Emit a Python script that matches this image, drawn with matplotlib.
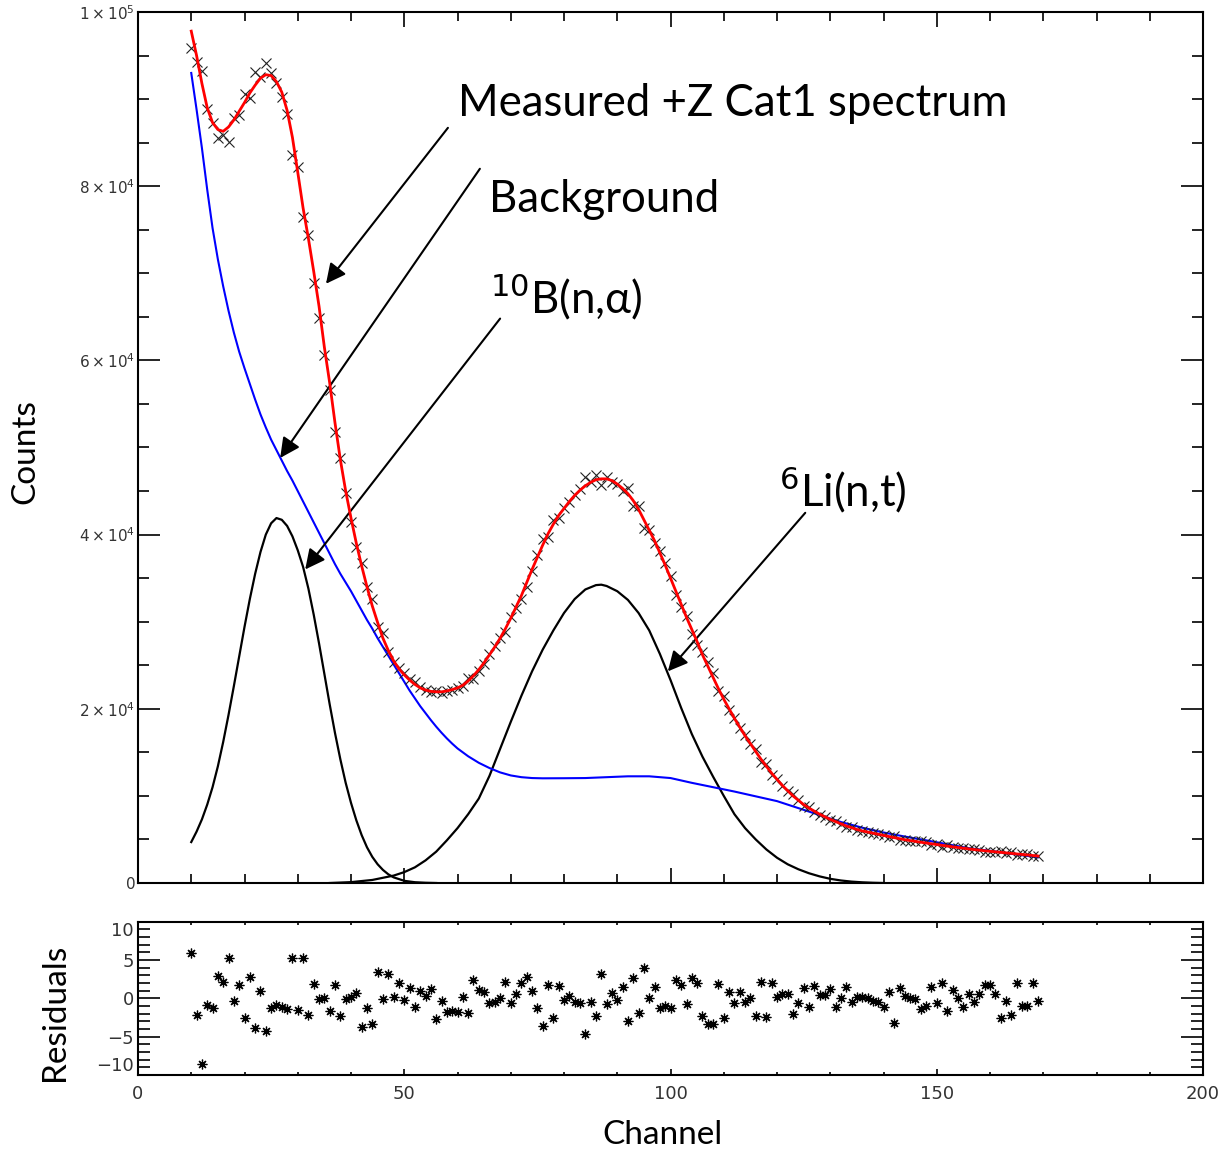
import numpy as np
import matplotlib
matplotlib.use('Agg')
import matplotlib.pyplot as plt
from matplotlib.ticker import MultipleLocator, FixedLocator

# ---------------- data ----------------
channels = np.arange(10, 170)

measured = [
    95820, 94290, 93250, 88820, 87280, 85490, 85870, 85100, 87790, 88170,
    90580, 90080, 93140, 92490, 94170, 92950, 91800, 90270, 88280, 83570,
    82230, 76490, 74390, 68850, 64830, 60610, 56600, 51810, 48750, 44740,
    41480, 38610, 36700, 34020, 32570, 29420, 28670, 26550, 25410, 24650,
    24070, 23380, 23110, 22540, 22150, 21960, 22000, 21770, 22000, 22150,
    22350, 22670, 23480, 23430, 24330, 25160, 26310, 27170, 28100, 28830,
    30500, 31600, 32650, 33980, 35810, 37650, 39510, 39750, 41710, 41870,
    43040, 43740, 44590, 45240, 46600, 46090, 46790, 45720, 46560, 46040,
    45840, 44980, 45310, 43330, 43310, 40710, 40500, 39020, 38130, 36690,
    35220, 33060, 31690, 30630, 28640, 27380, 26570, 25420, 24110, 22020,
    21480, 19880, 18980, 17780, 16960, 16000, 15380, 13940, 13680, 12380,
    11890, 11140, 10540, 10200, 9560, 8870, 8710, 8100, 7860, 7560,
    7200, 7150, 6800, 6430, 6385, 6140, 5965, 5850, 5740, 5620,
    5550, 5270, 5440, 4990, 4950, 4870, 4780, 4780, 4660, 4405,
    4450, 4190, 4330, 4080, 4070, 4065, 3875, 3865, 3735, 3595,
    3535, 3545, 3670, 3480, 3525, 3230, 3335, 3275, 3050, 3120,
]

fit = [
    97800, 95000, 91800, 89000, 87300, 86500, 86300, 86800, 87600, 88600,
    89600, 90700, 91600, 92400, 92800, 92700, 92000, 90800, 88700, 85600,
    81600, 77500, 74000, 70200, 66200, 61500, 57400, 52800, 48600, 45000,
    41900, 39000, 36400, 34000, 31800, 29900, 28100, 26700, 25500, 24600,
    23900, 23300, 22800, 22400, 22150, 22000, 21950, 21950, 22050, 22200,
    22400, 22700, 23200, 23800, 24500, 25300, 26200, 27100, 28100, 29200,
    30400, 31700, 33000, 34500, 36000, 37400, 38800, 40100, 41200, 42200,
    43000, 43800, 44500, 45100, 45600, 46000, 46300, 46400, 46400, 46200,
    45800, 45300, 44700, 43900, 42900, 41700, 40500, 39300, 37900, 36500,
    35000, 33500, 32000, 30500, 29100, 27700, 26200, 24900, 23600, 22300,
    21100, 20000, 18900, 17900, 16900, 16000, 15100, 14200, 13400, 12600,
    11900, 11200, 10600, 10000, 9500, 9000, 8600, 8250, 7900, 7600,
    7300, 7050, 6800, 6550, 6350, 6150, 5980, 5850, 5720, 5590,
    5460, 5330, 5210, 5090, 4970, 4870, 4770, 4680, 4590, 4500,
    4410, 4320, 4230, 4150, 4070, 3990, 3910, 3840, 3770, 3700,
    3640, 3580, 3520, 3460, 3400, 3340, 3280, 3220, 3160, 3100,
]

residuals = [
    5.95, -2.18, -8.57, -0.88, -1.22, 2.9, 2.12, 5.21, -0.36, 1.73,
    -2.6, 2.82, -3.83, 1.0, -4.2, -1.22, -0.88, -1.1, -1.44, 5.21,
    -1.53, 5.21, -2.18, 1.86, -0.14, 0.0, -1.62, 1.73, -2.31, -0.14,
    0.12, 0.64, -3.79, -1.22, -3.35, 3.47, -0.1, 3.17, 0.21, 1.95,
    -0.2, 1.3, -1.1, 1.0, 0.3, 1.17, -2.7, -0.31, -1.83, -1.62,
    -1.83, 0.21, -1.88, 2.4, 1.08, 0.86, -0.66, -0.44, 0.0, 2.17,
    -0.57, 0.56, 1.95, 2.82, 1.0, -1.3, -3.6, 1.73, -2.5, 1.6,
    -0.2, 0.3, -0.44, -0.66, -4.66, -0.44, -2.3, 3.17, -0.75, 0.73,
    -0.2, 1.5, -2.9, 2.7, -1.96, 3.9, 0.0, 1.43, -1.2, -1.0,
    -1.2, 2.4, 1.73, -0.75, 2.7, 1.95, -2.3, -3.3, -3.3, 1.86,
    -2.6, 0.86, -0.57, 0.86, -0.44, 0.0, -2.3, 2.17, -2.4, 1.95,
    0.12, 0.56, 0.56, -2.05, -0.57, 1.4, -1.18, 1.64, 0.43, 0.43,
    1.17, -1.18, 0.0, 1.5, -0.44, 0.12, 0.21, 0.0, -0.31, -0.44,
    -1.18, 0.86, -3.18, 1.4, 0.3, 0.0, -0.14, -1.44, -1.0, 1.43,
    -0.57, 2.04, -1.6, 1.08, 0.0, -1.18, 0.56, -0.44, 0.56, 1.73,
    1.73, 0.56, -2.6, -0.31, -2.18, 1.95, -1.0, -1.0, 1.95, -0.31,
]

bg_ch = [10, 11, 12, 13, 14, 15, 16, 17, 18, 19, 20, 21, 22, 23, 24, 25, 26,
         27, 28, 29, 30, 31, 32, 33, 34, 35, 36, 37, 38, 39, 40, 41, 42, 43,
         44, 45, 46, 47, 48, 49, 50, 51, 52, 53, 54, 55, 56, 57, 58, 59, 60,
         62, 64, 66, 68, 70, 72, 74, 76, 80, 84, 88, 92, 96, 100, 104, 108,
         112, 116, 120, 124, 128, 132, 136, 140, 144, 148, 152, 156, 160,
         164, 169]
background = [93000, 88800, 84400, 79600, 75200, 71600, 68500, 65700, 63200,
              61000, 59100, 57300, 55500, 53800, 52300, 50900, 49700, 48500,
              47300, 46200, 45000, 43800, 42600, 41400, 40200, 39000, 37800,
              36600, 35500, 34500, 33500, 32400, 31300, 30200, 29200, 28100,
              27100, 26100, 25100, 24100, 23100, 22100, 21200, 20300, 19500,
              18700, 17950, 17250, 16600, 16000, 15450, 14550, 13800, 13200,
              12700, 12350, 12150, 12050, 12020, 12030, 12050, 12150, 12250,
              12250, 12050, 11500, 11000, 10500, 9950, 9400, 8600, 7800, 7000,
              6350, 5800, 5330, 4900, 4450, 4000, 3700, 3350, 2950]

b10_ch = [10, 11, 12, 13, 14, 15, 16, 17, 18, 19, 20, 21, 22, 23, 24, 25, 26,
          27, 28, 29, 30, 31, 32, 33, 34, 35, 36, 37, 38, 39, 40, 41, 42, 43,
          44, 45, 46, 47, 48, 50, 52, 54, 56]
b10_peak = [4700, 5900, 7300, 9000, 11000, 13400, 16200, 19300, 22600, 26000,
            29400, 32600, 35500, 38000, 40000, 41300, 41900, 41700, 41000,
            39800, 38200, 36300, 33800, 30800, 27500, 24000, 20500, 17200,
            14200, 11500, 9200, 7200, 5500, 4100, 3000, 2150, 1500, 1000,
            650, 250, 90, 30, 0]

li6_ch = [36, 40, 44, 48, 50, 52, 54, 56, 58, 60, 62, 64, 66, 68, 70, 72, 74,
          76, 78, 80, 82, 84, 86, 87, 88, 90, 92, 94, 96, 98, 100, 102, 104,
          106, 108, 110, 112, 114, 116, 118, 120, 122, 124, 126, 128, 130,
          132, 134, 136, 138, 140]
li6_peak = [0, 100, 350, 850, 1250, 1800, 2600, 3600, 4900, 6300, 7900, 9700,
            12300, 15400, 18500, 21500, 24300, 26800, 29000, 31000, 32600,
            33700, 34200, 34250, 34100, 33500, 32500, 31000, 29000, 26300,
            23300, 20100, 17100, 14500, 12200, 10000, 7900, 6300, 5000, 3850,
            2900, 2150, 1580, 1120, 760, 480, 290, 160, 80, 30, 0]

x_ticks = [0, 50, 100, 150, 200]
y_ticks = [0, 20000, 40000, 60000, 80000, 100000]
y_labels = ['0', r'$2\times10^{4}$', r'$4\times10^{4}$', r'$6\times10^{4}$',
            r'$8\times10^{4}$', r'$1\times10^{5}$']
r_ticks = [-10, -5, 0, 5, 10]
r_labels = ['\u221210', '\u22125', '0', '5', '10']

# annotations: (text, text pos, arrow start, arrow tip)
annotations = [
    ('Measured +Z Cat1 spectrum', (60.1, 89500), (58.2, 86700), (35.3, 68800)),
    ('Background', (65.9, 78500), (64.2, 82000), (26.7, 48800)),
    (r'$^{10}$B(n,α)', (66.1, 67300), (68.0, 64800), (31.4, 36000)),
    (r'$^{6}$Li(n,t)', (120.4, 45200), (125.3, 42500), (99.5, 24300)),
]

# ---------------- figure ----------------
plt.rcParams['font.family'] = ['DejaVu Sans']
plt.rcParams['mathtext.fontset'] = 'dejavusans'
TXT = ['Lato', 'DejaVu Sans']

fig = plt.figure(figsize=(12.31, 11.52), dpi=100)
ax = fig.add_axes([0.1121, 0.2335, 0.8652, 0.7561])
axr = fig.add_axes([0.1121, 0.0668, 0.8652, 0.1331])

ax.plot(b10_ch, b10_peak, color='black', lw=1.6, zorder=2)
ax.plot(li6_ch, li6_peak, color='black', lw=1.6, zorder=2)
ax.plot(bg_ch, background, color='#0000ff', lw=1.5, zorder=3)
ax.plot(channels, measured, ls='none', marker='x', ms=6.5, mew=0.8,
        color='#222222', zorder=4)
ax.plot(channels, fit, color='#ff0000', lw=2.0, zorder=5)

ax.set_xlim(0, 200)
ax.set_ylim(0, 100000)
ax.xaxis.set_major_locator(FixedLocator(x_ticks))
ax.xaxis.set_minor_locator(MultipleLocator(10))
ax.yaxis.set_major_locator(FixedLocator(y_ticks))
ax.yaxis.set_minor_locator(MultipleLocator(5000))
ax.set_yticklabels(y_labels)
ax.tick_params(axis='x', which='both', direction='in', top=True, bottom=True,
               labelbottom=False)
ax.tick_params(axis='x', which='major', length=11, width=1.2)
ax.tick_params(axis='x', which='minor', length=6.5, width=1.2)
ax.tick_params(axis='y', which='both', direction='in', left=True, right=True,
               labelsize=11, labelcolor='#333333', pad=2)
ax.tick_params(axis='y', which='major', length=16, width=1.2)
ax.tick_params(axis='y', which='minor', length=8, width=1.2)
for s in ax.spines.values():
    s.set_linewidth(1.5)

for text, tpos, start, tip in annotations:
    ax.text(tpos[0], tpos[1], text, fontsize=31.5, family=TXT,
            ha='left', va='center', color='black')
    ax.annotate('', xy=tip, xytext=start,
                arrowprops=dict(arrowstyle='-|>', color='black', lw=1.5,
                                mutation_scale=30, shrinkA=0, shrinkB=0))

# residuals
axr.plot(channels, residuals, ls='none', marker=(8, 2, 0), ms=7, mew=0.9,
         color='black')
axr.set_xlim(0, 200)
axr.set_ylim(-10, 10)
axr.xaxis.set_major_locator(FixedLocator(x_ticks))
axr.xaxis.set_minor_locator(MultipleLocator(10))
axr.yaxis.set_major_locator(FixedLocator(r_ticks))
axr.yaxis.set_minor_locator(MultipleLocator(1))
axr.set_yticklabels(r_labels)
axr.tick_params(axis='x', which='both', direction='in', top=True, bottom=True,
                labelsize=13, labelcolor='#333333', pad=7)
axr.tick_params(axis='x', which='major', length=4, width=1.2)
axr.tick_params(axis='x', which='minor', length=2.5, width=1.2)
axr.tick_params(axis='y', which='both', direction='in', left=True, right=True,
                labelsize=13, labelcolor='#333333', pad=3)
axr.tick_params(axis='y', which='major', length=16, width=1.2)
axr.tick_params(axis='y', which='minor', length=8.5, width=1.2)
for s in axr.spines.values():
    s.set_linewidth(1.5)
ylabs = axr.get_yticklabels()
ylabs[0].set_va('bottom')
ylabs[-1].set_va('top')

fig.text(25 / 1231, 1 - 452 / 1152, 'Counts', rotation=90, fontsize=24,
         family=TXT, ha='center', va='center')
fig.text(55 / 1231, 1 - 1012 / 1152, 'Residuals', rotation=90, fontsize=24,
         family=TXT, ha='center', va='center')
fig.text(662 / 1231, 1 - 1135 / 1152, 'Channel', fontsize=24, family=TXT,
         ha='center', va='center')

fig.savefig('out.png', dpi=100)
